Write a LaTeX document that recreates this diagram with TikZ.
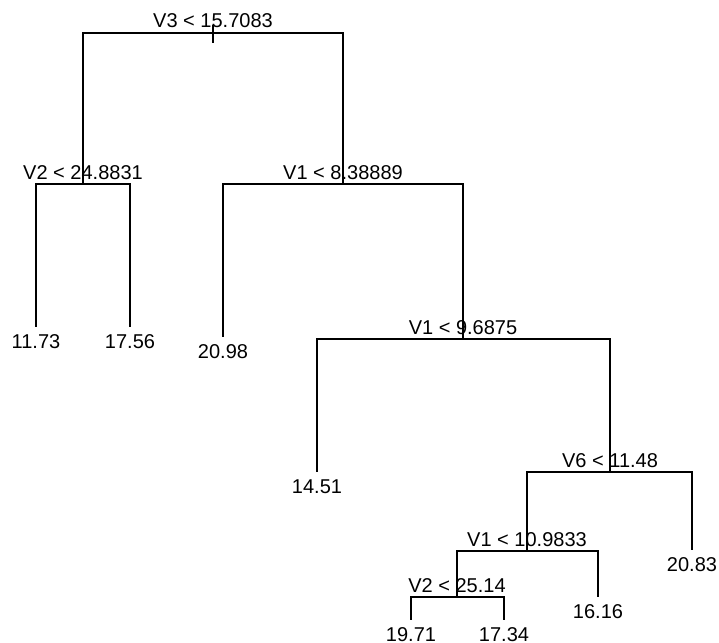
\documentclass[tikz,border=0pt]{standalone}
\usepackage{fontspec}
\setmainfont{Liberation Sans}
\usepackage{tikz}

\begin{document}
\begin{tikzpicture}[x=1pt, y=-1pt, line width=1.5pt,
    split/.style={anchor=base, yshift=5pt, inner sep=0pt, font=\fontsize{20}{24}\selectfont},
    leaf/.style={anchor=base, yshift=-21pt, inner sep=0pt, font=\fontsize{20}{24}\selectfont}]
    \useasboundingbox (0,0) rectangle (719,642);
    % split points
    \coordinate (n1) at (213,33);
    \coordinate (n2) at (83,184);
    \coordinate (n3) at (343,184);
    \coordinate (n6) at (463,339);
    \coordinate (n7) at (610,472);
    \coordinate (n14) at (527,551);
    \coordinate (n28) at (457,597);
    % leaves
    \coordinate (l4) at (36,327);
    \coordinate (l5) at (130,327);
    \coordinate (l12) at (223,337);
    \coordinate (l13) at (317,472);
    \coordinate (l15) at (692,550);
    \coordinate (l29) at (598,597);
    \coordinate (l56) at (411,620);
    \coordinate (l57) at (504,620);
      \draw ([yshift=8pt]n1) -- ([yshift=-10pt]n1);
      \draw (n1) -| (n2);
      \draw (n1) -| (n3);
      \draw (n2) -| (l4);
      \draw (n2) -| (l5);
      \draw (n3) -| (l12);
      \draw (n3) -| (n6);
      \draw (n6) -| (l13);
      \draw (n6) -| (n7);
      \draw (n7) -| (n14);
      \draw (n7) -| (l15);
      \draw (n14) -| (n28);
      \draw (n14) -| (l29);
      \draw (n28) -| (l56);
      \draw (n28) -| (l57);
    \node [split] at (n1) {V3 < 15.7083};
    \node [split] at (n2) {V2 < 24.8831};
    \node [split] at (n3) {V1 < 8.38889};
    \node [split] at (n6) {V1 < 9.6875};
    \node [split] at (n7) {V6 < 11.48};
    \node [split] at (n14) {V1 < 10.9833};
    \node [split] at (n28) {V2 < 25.14};
    \node [leaf] at (l4) {11.73};
    \node [leaf] at (l5) {17.56};
    \node [leaf] at (l12) {20.98};
    \node [leaf] at (l13) {14.51};
    \node [leaf] at (l15) {20.83};
    \node [leaf] at (l29) {16.16};
    \node [leaf] at (l56) {19.71};
    \node [leaf] at (l57) {17.34};
\end{tikzpicture}
\end{document}
